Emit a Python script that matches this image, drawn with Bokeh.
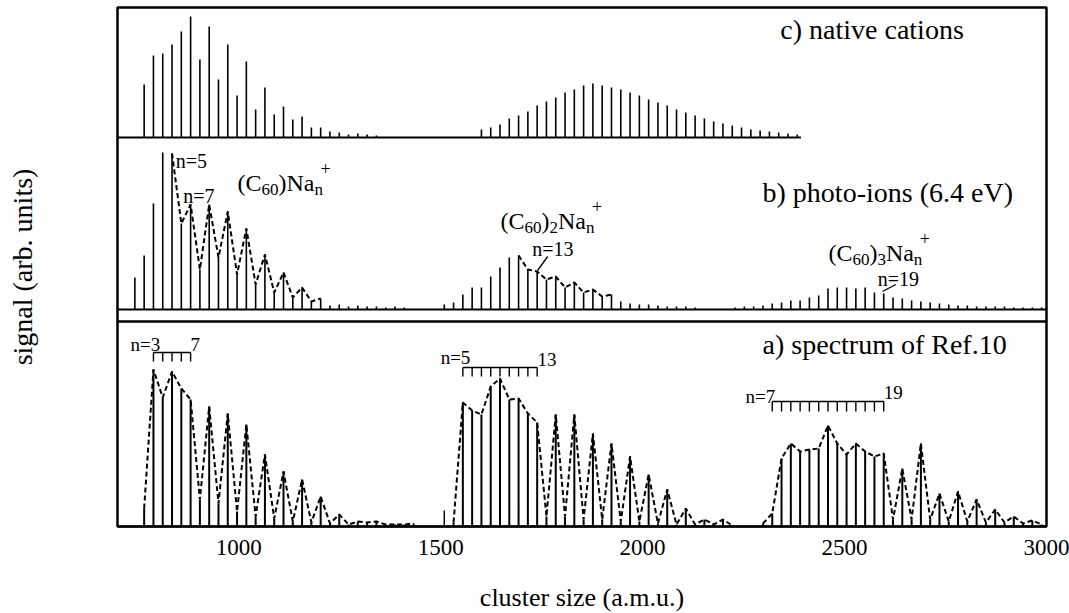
from bokeh.plotting import figure
from bokeh.models import Range1d, FixedTicker, Label, Span
from bokeh.embed import file_html
from bokeh.resources import INLINE

FONT = "Liberation Serif"
C60_MASS = 720
NA_MASS = 23

X_START, X_END = 700, 3000
X_TICKS = [1000, 1500, 2000, 2500, 3000]

# ---------------- panel c) native cations ----------------
c_mono_n = list(range(2, 28))
c_mono_h = [53, 82, 84, 93, 106, 121, 78, 111, 58, 93,
            42, 76, 28, 50, 23, 31, 18, 21, 10, 10,
            6, 5, 3, 4, 3, 2]
c_dim_n = list(range(7, 42))
c_dim_h = [8, 10, 13, 19, 22, 26, 32, 36, 40, 45,
           48, 52, 54, 52, 50, 48, 45, 42, 38, 35,
           32, 28, 25, 22, 19, 16, 14, 12, 10, 8,
           7, 6, 5, 4, 3]
c_trace_end = 2392

# ---------------- panel b) photo-ions ----------------
b_mono_n = list(range(1, 31))
b_mono_h = [32, 54, 106, 157, 156, 86, 105, 40, 105, 52,
            98, 35, 81, 25, 55, 17, 37, 12, 22, 8,
            11, 4, 5, 3, 4, 3, 3, 2, 3, 2]
b_dim_n = list(range(3, 31))
b_dim_h = [5, 7, 15, 22, 22, 33, 42, 52, 54, 40,
           38, 30, 33, 22, 27, 17, 20, 13, 15, 8,
           6, 5, 5, 4, 3, 3, 3, 2]
b_tri_n = list(range(3, 37))
b_tri_h = [2, 3, 3, 4, 6, 7, 9, 9, 12, 14,
           21, 22, 22, 21, 22, 17, 16, 12, 11, 9,
           8, 7, 6, 5, 4, 4, 3, 3, 3, 3,
           2, 2, 2, 2]
b_mono_dash_n = (5, 21)
b_dim_dash_n = (11, 21)

# ---------------- panel a) spectrum of Ref.10 ----------------
a_mono_n = list(range(2, 32))
a_mono_h = [18, 157, 129, 155, 138, 127, 27, 120, 23, 113,
            15, 102, 10, 72, 8, 55, 5, 47, 4, 30,
            3, 12, 2, 5, 4, 5, 2, 2, 2, 3]
a_dim_n = list(range(4, 35))
a_dim_h = [4, 124, 116, 112, 140, 148, 127, 128, 113, 104,
           10, 112, 10, 112, 7, 93, 7, 83, 5, 70,
           5, 52, 3, 37, 2, 18, 2, 7, 2, 7, 1]
a_extra_m = [1509]
a_extra_h = [16]
a_tri_n = list(range(6, 37))
a_tri_h = [3, 13, 68, 83, 75, 77, 78, 101, 83, 72,
           83, 75, 70, 73, 7, 58, 7, 83, 7, 33,
           5, 35, 5, 27, 4, 17, 4, 10, 3, 6, 2]


def masses(k, ns):
    return [k * C60_MASS + NA_MASS * n for n in ns]


def subset(ns, hs, lo, hi):
    pairs = [(n, h) for n, h in zip(ns, hs) if lo <= n <= hi]
    return [q[0] for q in pairs], [q[1] for q in pairs]


p = figure(frame_width=929, frame_height=519,
           x_range=Range1d(X_START, X_END), y_range=Range1d(0, 519),
           output_backend="svg", toolbar_location=None,
           min_border_left=117, min_border_right=23, min_border_top=7,
           min_border_bottom=10)
p.extra_y_ranges = {"b": Range1d(-217, 302), "c": Range1d(-389, 130)}

p.grid.visible = False
p.outline_line_color = "black"
p.outline_line_width = 2.5
p.background_fill_color = "white"
p.border_fill_color = "white"

# x axis
p.xaxis.ticker = FixedTicker(ticks=X_TICKS)
p.xaxis.major_tick_in = 0
p.xaxis.major_tick_out = 0
p.xaxis.minor_tick_in = 0
p.xaxis.minor_tick_out = 0
p.xaxis.axis_line_width = 2
p.xaxis.major_label_text_font = FONT
p.xaxis.major_label_text_font_size = "23px"
p.xaxis.major_label_text_color = "black"
p.xaxis.major_label_standoff = 13
p.xaxis.axis_label = "cluster size (a.m.u.)"
p.xaxis.axis_label_text_font = FONT
p.xaxis.axis_label_text_font_size = "26px"
p.xaxis.axis_label_text_font_style = "normal"
p.xaxis.axis_label_text_color = "black"
p.xaxis.axis_label_standoff = 25

# y axis (label only)
p.yaxis.ticker = FixedTicker(ticks=[])
p.yaxis.major_tick_in = 0
p.yaxis.major_tick_out = 0
p.yaxis.minor_tick_in = 0
p.yaxis.minor_tick_out = 0
p.yaxis.axis_line_color = None
p.yaxis.major_label_text_font_size = "0px"
p.yaxis.axis_label = "signal (arb. units)"
p.yaxis.axis_label_text_font = FONT
p.yaxis.axis_label_text_font_size = "28px"
p.yaxis.axis_label_text_font_style = "normal"
p.yaxis.axis_label_text_color = "black"
p.yaxis.axis_label_standoff = 80

# separator between b) and a)
p.add_layout(Span(location=205, dimension="width", line_color="black", line_width=2.5))


def sticks(ms, hs, rng, width):
    p.segment(x0=ms, y0=[0] * len(ms), x1=ms, y1=hs, line_color="black",
              line_width=width, y_range_name=rng)


def dashed(ms, hs, rng):
    p.line(ms, hs, line_color="black", line_width=2, line_dash="5 3", y_range_name=rng)


# panel c
p.segment(x0=[X_START], y0=[0], x1=[c_trace_end], y1=[0], line_color="black",
          line_width=2.2, y_range_name="c")
sticks(masses(1, c_mono_n), c_mono_h, "c", 1.6)
sticks(masses(2, c_dim_n), c_dim_h, "c", 1.6)

# panel b
p.segment(x0=[X_START], y0=[0], x1=[X_END], y1=[0], line_color="black",
          line_width=2.2, y_range_name="b")
sticks(masses(1, b_mono_n), b_mono_h, "b", 1.6)
sticks(masses(2, b_dim_n), b_dim_h, "b", 1.6)
sticks(masses(3, b_tri_n), b_tri_h, "b", 1.6)
n_, h_ = subset(b_mono_n, b_mono_h, *b_mono_dash_n)
dashed(masses(1, n_), h_, "b")
n_, h_ = subset(b_dim_n, b_dim_h, *b_dim_dash_n)
dashed(masses(2, n_), h_, "b")

# panel a
sticks(masses(1, a_mono_n), a_mono_h, "default", 2)
sticks(masses(2, a_dim_n), a_dim_h, "default", 2)
sticks(a_extra_m, a_extra_h, "default", 1.4)
sticks(masses(3, a_tri_n), a_tri_h, "default", 2)
dashed(masses(1, a_mono_n), a_mono_h, "default")
dashed(masses(2, a_dim_n), a_dim_h, "default")
dashed(masses(3, a_tri_n), a_tri_h, "default")


def bracket(k, n0, n1, top, tick):
    ms = masses(k, list(range(n0, n1 + 1)))
    p.segment(x0=[ms[0]], y0=[top], x1=[ms[-1]], y1=[top], line_color="black", line_width=1.6)
    p.segment(x0=ms, y0=[top] * len(ms), x1=ms, y1=[top - tick] * len(ms),
              line_color="black", line_width=1.4)


bracket(1, 3, 7, 174, 9)
bracket(2, 5, 13, 159, 9)
bracket(3, 7, 19, 125, 10)


def text(x, y, s, size, rng="default", align="left", xo=0, yo=0):
    p.add_layout(Label(x=x, y=y, text=s, text_font=FONT, text_font_size=f"{size}px",
                       text_align=align, text_baseline="alphabetic", text_color="black",
                       x_offset=xo, y_offset=yo + round(0.28 * size), y_range_name=rng))


def formula(x, y, k, rng):
    S, s = 24, 17
    parts = [("(C", S, 0, 1.0), ("60", s, -5, 1.0)]
    if k == 1:
        parts += [(")Na", S, 0, 1.5)]
    else:
        parts += [(")", S, 0, 0.333), (str(k), s, -5, 0.5), ("Na", S, 0, 1.166)]
    off = 0.0
    for t, size, dy, em in parts:
        text(x, y, t, size, rng, xo=off, yo=dy)
        off += em * size
    text(x, y, "n", s, rng, xo=off, yo=-5)
    text(x, y, "+", 18, rng, xo=off + 6, yo=16)


# titles
text(2341, 100, "c) native cations", 28, "c")
text(2297, 109, "b) photo-ions (6.4 eV)", 28, "b")
text(2297, 174, "a) spectrum of Ref.10", 28, "default")

# panel b annotations
text(844, 143, "n=5", 20, "b")
text(863, 108, "n=7", 20, "b")
formula(997, 120, 1, "b")
formula(1648, 82, 2, "b")
text(1727, 55, "n=13", 20, "b")
p.segment(x0=[1765], y0=[53], x1=[1740], y1=[39], line_color="black", line_width=1.3,
          y_range_name="b")
formula(2460, 50, 3, "b")
text(2582, 25, "n=19", 20, "b")
p.segment(x0=[2627], y0=[25], x1=[2594], y1=[18], line_color="black", line_width=1.3,
          y_range_name="b")

# panel a annotations
text(806, 177, "n=3", 19, align="right")
text(881, 177, "7", 19)
text(1500, 164, "n=5", 19)
text(1740, 162, "13", 19)
text(2255, 125, "n=7", 19)
text(2597, 129, "19", 19)

open("out.html", "w").write(file_html(p, INLINE))
